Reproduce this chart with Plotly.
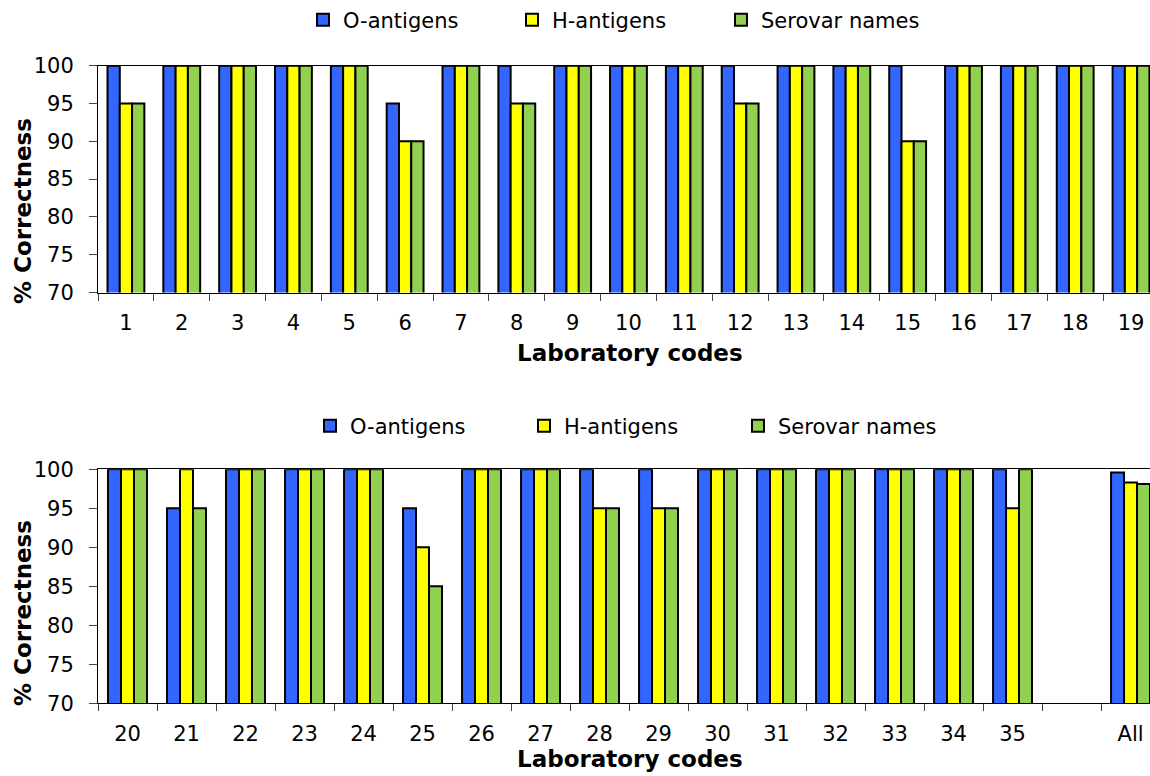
import plotly.graph_objects as go

# ---- data ----
top_labels = ["1", "2", "3", "4", "5", "6", "7", "8", "9", "10",
              "11", "12", "13", "14", "15", "16", "17", "18", "19"]
top_o = [100, 100, 100, 100, 100, 95, 100, 100, 100, 100,
         100, 100, 100, 100, 100, 100, 100, 100, 100]
top_h = [95, 100, 100, 100, 100, 90, 100, 95, 100, 100,
         100, 95, 100, 100, 90, 100, 100, 100, 100]
top_s = [95, 100, 100, 100, 100, 90, 100, 95, 100, 100,
         100, 95, 100, 100, 90, 100, 100, 100, 100]

bot_labels = ["20", "21", "22", "23", "24", "25", "26", "27", "28", "29",
              "30", "31", "32", "33", "34", "35", " ", "All"]
bot_o = [100, 95, 100, 100, 100, 95, 100, 100, 100, 100,
         100, 100, 100, 100, 100, 100, None, 99.6]
bot_h = [100, 100, 100, 100, 100, 90, 100, 100, 95, 95,
         100, 100, 100, 100, 100, 95, None, 98.3]
bot_s = [100, 95, 100, 100, 100, 85, 100, 100, 95, 95,
         100, 100, 100, 100, 100, 100, None, 98.1]

series_names = ["O-antigens", "H-antigens", "Serovar names"]
series_colors = ["#3366FF", "#FFFF00", "#92D050"]

W, H = 1150, 776
FONT = "DejaVu Sans"

fig = go.Figure()
for name, col, vals in zip(series_names, series_colors, [top_o, top_h, top_s]):
    fig.add_trace(go.Bar(x=top_labels, y=vals, name=name, xaxis="x", yaxis="y",
                         marker=dict(color=col, line=dict(color="black", width=2)),
                         legend="legend"))
for name, col, vals in zip(series_names, series_colors, [bot_o, bot_h, bot_s]):
    fig.add_trace(go.Bar(x=bot_labels, y=vals, name=name, xaxis="x2", yaxis="y2",
                         marker=dict(color=col, line=dict(color="black", width=2)),
                         legend="legend2"))

xcommon = dict(type="category", tickson="boundaries", ticks="outside", ticklen=7,
               tickcolor="#444", showline=True, linecolor="black", linewidth=1,
               mirror=True, showgrid=False, automargin=False,
               tickfont=dict(family=FONT, size=21, color="black"),
               ticklabelstandoff=11, fixedrange=True)
ycommon = dict(range=[70, 100], dtick=5, ticks="outside", ticklen=8, tickcolor="#444",
               showline=True, linecolor="black", linewidth=1, showgrid=False,
               zeroline=False, automargin=False,
               tickfont=dict(family=FONT, size=21, color="black"),
               ticklabelstandoff=11, fixedrange=True)

fig.update_layout(
    width=W, height=H,
    margin=dict(l=0, r=0, t=0, b=0, autoexpand=False),
    paper_bgcolor="white", plot_bgcolor="white",
    bargap=0.34, bargroupgap=0,
    barmode="group",
    font=dict(family=FONT, color="black"),
    xaxis=dict(domain=[98 / W, 1], anchor="y", range=[-0.5, 18.34], **xcommon),
    yaxis=dict(domain=[1 - 292.5 / H, 1 - 65.7 / H], anchor="x", **ycommon),
    xaxis2=dict(domain=[98 / W, 1], anchor="y2", range=[-0.5, 17.33], **xcommon),
    yaxis2=dict(domain=[1 - 703.3 / H, 1 - 469.3 / H], anchor="x2", **ycommon),
    legend=dict(orientation="h", x=303 / W, y=1 - 20 / H, xanchor="left", yanchor="middle",
                font=dict(family=FONT, size=21), entrywidth=164, entrywidthmode="pixels",
                bgcolor="rgba(0,0,0,0)", itemclick=False, itemdoubleclick=False),
    legend2=dict(orientation="h", x=310 / W, y=1 - 426 / H, xanchor="left", yanchor="middle",
                 font=dict(family=FONT, size=21), entrywidth=169, entrywidthmode="pixels",
                 bgcolor="rgba(0,0,0,0)", itemclick=False, itemdoubleclick=False),
    annotations=[
        dict(text="<b>Laboratory codes</b>", x=630 / W, y=1 - 353 / H, xref="paper", yref="paper",
             showarrow=False, xanchor="center", yanchor="middle", font=dict(family=FONT, size=23)),
        dict(text="<b>Laboratory codes</b>", x=630 / W, y=1 - 759 / H, xref="paper", yref="paper",
             showarrow=False, xanchor="center", yanchor="middle", font=dict(family=FONT, size=23)),
        dict(text="<b>% Correctness</b>", x=23 / W, y=1 - 211 / H, xref="paper", yref="paper",
             showarrow=False, xanchor="center", yanchor="middle", textangle=-90,
             font=dict(family=FONT, size=23)),
        dict(text="<b>% Correctness</b>", x=23 / W, y=1 - 613 / H, xref="paper", yref="paper",
             showarrow=False, xanchor="center", yanchor="middle", textangle=-90,
             font=dict(family=FONT, size=23)),
    ],
)

fig.write_html("out.html", config={"displayModeBar": False},
               post_script="document.body.style.margin='0';document.body.style.overflow='hidden';")
